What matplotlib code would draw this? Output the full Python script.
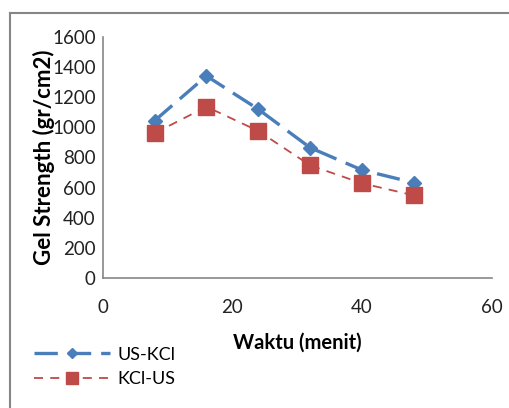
import matplotlib
matplotlib.use("Agg")
import matplotlib.pyplot as plt
from matplotlib.lines import Line2D

# data
waktu = [8, 16, 24, 32, 40, 48]
us_kcl = [1043, 1340, 1119, 864, 716, 632]
kcl_us = [960, 1136, 975, 747, 628, 548]
x_ticks = [0, 20, 40, 60]
y_ticks = [0, 200, 400, 600, 800, 1000, 1200, 1400, 1600]

blue = "#4A7EBB"
red = "#BE4B48"
grey = "#868686"

plt.rcParams["font.family"] = ["Lato", "DejaVu Sans"]

fig = plt.figure(figsize=(5.09, 4.08), dpi=100)
ax = fig.add_axes([0.2018, 0.3186, 0.7642, 0.5914])

ax.plot(waktu, us_kcl, color=blue, lw=2.4, dashes=(7, 3),
        marker="D", ms=7, mfc=blue, mec=blue, label="US-KCl")
ax.plot(waktu, kcl_us, color=red, lw=1.3, dashes=(5, 4),
        marker="s", ms=11, mfc=red, mec=red, label="KCl-US")

ax.set_xlim(0, 60)
ax.set_ylim(0, 1600)
ax.set_xticks(x_ticks)
ax.set_yticks(y_ticks)
ax.tick_params(length=0, labelsize=13.5, colors="#222222", pad=5)
ax.tick_params(axis="x", pad=15)

for side in ["top", "right"]:
    ax.spines[side].set_visible(False)
for side in ["left", "bottom"]:
    ax.spines[side].set_color(grey)
    ax.spines[side].set_linewidth(1.2)

ax.set_xlabel("Waktu (menit)", fontsize=14.5, fontweight="bold", labelpad=12)
ax.set_ylabel("Gel Strength (gr/cm2)", fontsize=16, fontweight="bold", labelpad=-2)

leg = fig.legend(loc="upper left", bbox_to_anchor=(0.035, 0.19),
                 frameon=False, fontsize=13, handlelength=4.2,
                 handletextpad=0.4, labelspacing=0.45, markerscale=0.75)

# outer chart border (only left and top visible in the crop)
fig.add_artist(Line2D([10 / 509, 10 / 509], [0, 1 - 13 / 408],
                      transform=fig.transFigure, color=grey, lw=1.5))
fig.add_artist(Line2D([10 / 509, 1], [1 - 13 / 408, 1 - 13 / 408],
                      transform=fig.transFigure, color=grey, lw=1.5))

fig.savefig("out.png", dpi=100)
